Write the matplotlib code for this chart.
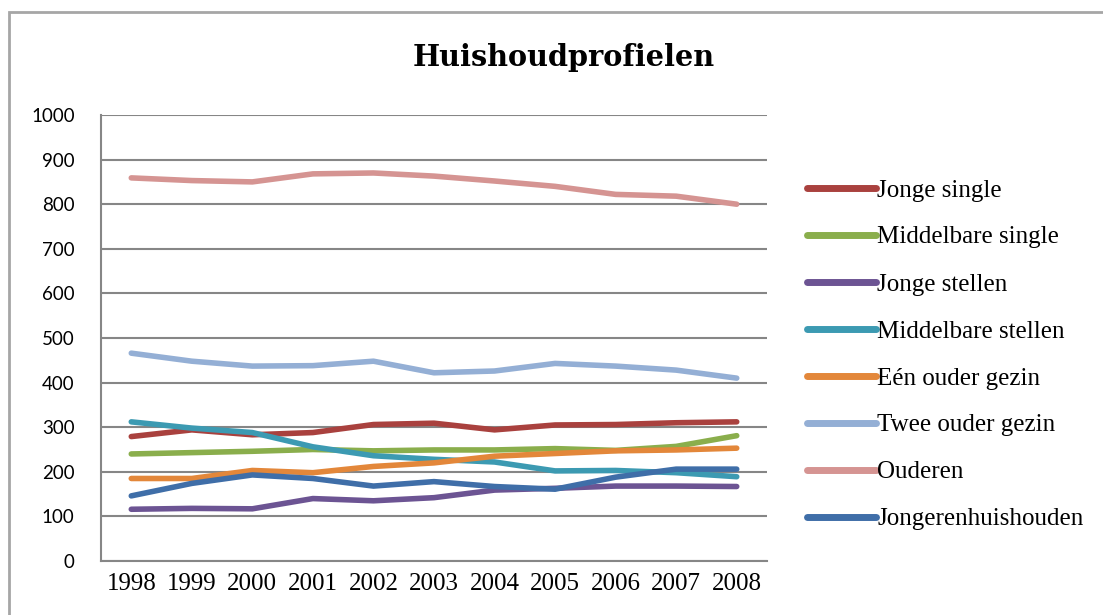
import matplotlib
matplotlib.use("Agg")
import matplotlib.pyplot as plt
from matplotlib.patches import Rectangle

# Data
years = ["1998", "1999", "2000", "2001", "2002", "2003", "2004", "2005", "2006", "2007", "2008"]

jonge_single = [279, 294, 283, 288, 306, 309, 294, 305, 306, 310, 312]
middelbare_single = [240, 243, 246, 250, 247, 249, 249, 252, 248, 257, 281]
jonge_stellen = [116, 118, 117, 140, 135, 142, 159, 163, 168, 168, 167]
middelbare_stellen = [312, 298, 288, 256, 236, 228, 222, 202, 203, 198, 189]
een_ouder_gezin = [185, 185, 203, 198, 212, 220, 235, 241, 247, 249, 253]
twee_ouder_gezin = [466, 448, 437, 438, 448, 422, 426, 443, 437, 428, 410]
ouderen = [859, 853, 850, 868, 870, 863, 852, 840, 822, 818, 800]
jongerenhuishouden = [146, 174, 193, 185, 168, 178, 167, 161, 188, 206, 206]

series = [
    ("Jonge single", jonge_single, "#a9413e"),
    ("Middelbare single", middelbare_single, "#8aae4c"),
    ("Jonge stellen", jonge_stellen, "#6c5493"),
    ("Middelbare stellen", middelbare_stellen, "#3c9ab2"),
    ("Eén ouder gezin", een_ouder_gezin, "#e3873a"),
    ("Twee ouder gezin", twee_ouder_gezin, "#94afd5"),
    ("Ouderen", ouderen, "#d59492"),
    ("Jongerenhuishouden", jongerenhuishouden, "#3f6ea8"),
]

W, H = 1103, 615
fig = plt.figure(figsize=(W / 100, H / 100), dpi=100)

# outer chart border (runs off the right and bottom edge)
fig.patches.append(Rectangle((9 / W, -0.1), 1.2, 1 - 12 / H + 0.1, transform=fig.transFigure,
                             fill=False, edgecolor="#a6a6a6", linewidth=2))

ax = fig.add_axes([101 / W, 1 - 561 / H, (767 - 101) / W, (561 - 115) / H])

x = range(len(years))
for name, vals, col in series:
    ax.plot(x, vals, color=col, linewidth=4, solid_capstyle="round",
            solid_joinstyle="round", label=name)

ax.set_xlim(-0.5, len(years) - 0.5)
ax.set_ylim(0, 1000)
ax.set_yticks(range(0, 1001, 100))
ax.set_xticks(list(x))
ax.set_xticklabels(years, fontfamily="Liberation Serif", fontsize=18)
for lab in ax.get_yticklabels():
    lab.set_fontfamily("Lato")
    lab.set_fontsize(13.5)
ax.tick_params(axis="y", length=0, pad=19)
ax.tick_params(axis="x", length=0, pad=9)
ax.grid(axis="y", color="#868686", linewidth=1.5)
ax.set_axisbelow(True)
for s in ["top", "right"]:
    ax.spines[s].set_visible(False)
for s in ["left", "bottom"]:
    ax.spines[s].set_color("#868686")
    ax.spines[s].set_linewidth(1.5)

fig.text(564 / W, 1 - 57 / H, "Huishoudprofielen", ha="center", va="center",
         fontfamily="DejaVu Serif", fontweight="bold", fontsize=20.7)

leg = ax.legend(loc="upper left", bbox_to_anchor=(807 / W, 1 - 179 / H),
                bbox_transform=fig.transFigure, frameon=False,
                prop={"family": "Liberation Serif", "size": 18},
                handlelength=2.75, handletextpad=0.05, labelspacing=0.98,
                borderpad=0, borderaxespad=0)
for ln in leg.get_lines():
    ln.set_linewidth(5)

fig.savefig("out.png", dpi=100)
